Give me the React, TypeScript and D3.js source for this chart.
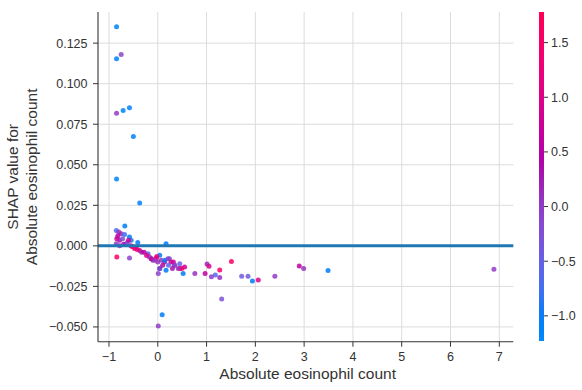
import React from "react";
import * as d3 from "d3";

// Feature value (x), SHAP value (y), interaction feature value (colour)
const featureX: number[] = [
  -0.845, -0.75, -0.845, -0.845, -0.71, -0.58, -0.5, -0.845, -0.37, -0.675,
  -0.85, -0.8, -0.75, -0.84, -0.78, -0.72, -0.58, -0.545, -0.41, -0.85,
  -0.65, -0.475, -0.42, -0.37, -0.84, -0.58, -0.82, -0.7, -0.62, -0.55,
  -0.45, -0.33, -0.78, -0.68, -0.6, -0.52,
  -0.2, -0.17, -0.135, -0.1, -0.03, 0.04, 0.17, 0.07, 0.0, 0.14,
  0.24, 0.27, 0.34, 0.04, 0.17, 0.45, 0.55, -0.13, -0.06, 0.145,
  0.21, 0.32, 0.35, 0.45, 0.49, 0.42, 0.04, 0.52, 0.01, 0.76,
  0.97, -0.02, -0.28, -0.23, 0.1, 0.22, 0.3,
  0.09, 0.01,
  1.01, 1.05, 1.1, 1.18, 1.27, 1.27, 1.31, 1.51, 1.72, 1.85,
  1.94, 2.06, 2.4, 2.9, 2.99, 3.49, 6.89,
];
const shapY: number[] = [
  0.1351, 0.118, 0.1153, 0.0818, 0.0834, 0.0852, 0.0674, 0.0413, 0.0265, 0.0122,
  0.0095, 0.0085, 0.0075, 0.0044, 0.0034, 0.0044, 0.0054, 0.0034, 0.002, 0.0013,
  0.0013, -0.0017, -0.0023, -0.0028, -0.0069, -0.0075, 0.006, 0.001, 0.002, 0.0,
  -0.001, -0.004, 0.0, 0.007, 0.0035, -0.0005,
  -0.0048, -0.0069, -0.0079, -0.0089, -0.0075, -0.0058, 0.0013, -0.0089, -0.0099, -0.0099,
  -0.0079, -0.0099, -0.012, -0.014, -0.015, -0.014, -0.013, -0.0079, -0.0089, -0.0089,
  -0.0079, -0.0099, -0.012, -0.011, -0.014, -0.014, -0.014, -0.0171, -0.0171, -0.0171,
  -0.0171, -0.0065, -0.004, -0.006, -0.012, -0.012, -0.014,
  -0.0425, -0.0494,
  -0.0112, -0.0126, -0.0191, -0.0179, -0.0195, -0.0149, -0.0327, -0.0097, -0.0187, -0.0187,
  -0.0216, -0.021, -0.0187, -0.0124, -0.014, -0.0152, -0.0144,
];
const colorValue: number[] = [
  -1.1, -0.1, -1.1, 0.0, -1.1, -1.1, -1.1, -1.1, -1.1, -1.0,
  -0.7, 0.1, 0.2, 0.9, 0.3, -0.2, -1.0, -0.9, -1.0, 0.0,
  -0.3, 1.5, 1.3, 1.0, 1.6, -0.1, 0.5, 0.4, -0.4, 0.6,
  1.2, 0.2, 0.1, -0.8, 0.8, 1.4,
  -0.5, 0.1, -0.9, 0.2, 0.9, -1.0, -1.0, 0.0, 0.1, 0.3,
  -0.4, 0.9, 0.0, -1.0, -1.0, 1.5, 0.8, 0.8, 0.0, -1.0,
  0.0, 0.8, -0.1, -0.5, 1.4, 0.1, 0.0, -1.0, -0.1, 0.1,
  0.6, 1.3, 0.5, 1.0, 0.4, -0.6, 0.3,
  -1.0, 0.0,
  0.2, 0.9, 0.0, -0.6, 0.1, 1.5, -0.3, 1.6, -0.4, -0.4,
  -1.0, 1.0, 0.0, 0.6, 0.1, -1.0, 0.0,
];

const xTicks: number[] = [-1, 0, 1, 2, 3, 4, 5, 6, 7];
const yTicks: number[] = [-0.05, -0.025, 0, 0.025, 0.05, 0.075, 0.1, 0.125];
const cTicks: number[] = [-1.0, -0.5, 0.0, 0.5, 1.0, 1.5];
const xDomain: [number, number] = [-1.225, 7.287];
const yDomain: [number, number] = [-0.0591, 0.1442];
const cDomain: [number, number] = [-1.23, 1.78];

const xLabel = "Absolute eosinophil count";
const yLabelLines = ["SHAP value for", "Absolute eosinophil count"];

// SHAP red_blue colormap (LCh interpolation)
function redBlue(t: number): string {
  const tt = Math.max(0, Math.min(1, t));
  const h0 = (4.6588 * 180) / Math.PI;
  const h1 = ((0.35470565 + 2 * Math.PI) * 180) / Math.PI;
  const h = h0 + (h1 - h0) * tt;
  const c = 70 + (90 - 70) * tt;
  const l = tt < 0.5 ? 54 + (40 - 54) * (tt / 0.5) : 40 + (54 - 40) * ((tt - 0.5) / 0.5);
  return d3.hcl(h, c, l).formatHex();
}

const fmtMinus = (s: string) => s.replace("-", "\u2212");

export default function App() {
  const W = 582, H = 390;
  const left = 98, right = 513.3, top = 12, bottom = 341.7;
  const x = d3.scaleLinear().domain(xDomain).range([left, right]);
  const y = d3.scaleLinear().domain(yDomain).range([bottom, top]);
  const cbX = 539, cbW = 5, cbTop = 12, cbBottom = 341;
  const cScale = d3.scaleLinear().domain(cDomain).range([cbBottom, cbTop]);
  const cNorm = d3.scaleLinear().domain(cDomain).range([0, 1]);

  const font = "'Liberation Sans', Arial, sans-serif";
  const textColor = "#333333";
  const gridColor = "#dcdcdc";
  const tickFont = 12.5;
  const labelFont = 15.5;

  const gradStops = d3.range(0, 1.0001, 0.05);

  return (
    <svg width={W} height={H} style={{ position: "absolute", left: 0, top: 0 }} fontFamily={font}>
      <rect x={0} y={0} width={W} height={H} fill="#ffffff" />
      <defs>
        <linearGradient id="cbgrad" x1="0" y1="1" x2="0" y2="0">
          {gradStops.map((t, i) => (
            <stop key={i} offset={t} stopColor={redBlue(t)} />
          ))}
        </linearGradient>
      </defs>
      {/* grid */}
      {xTicks.map((t) => (
        <line key={"gx" + t} x1={x(t)} x2={x(t)} y1={top} y2={bottom} stroke={gridColor} strokeWidth={1} />
      ))}
      {yTicks.map((t) => (
        <line key={"gy" + t} x1={left} x2={right} y1={y(t)} y2={y(t)} stroke={gridColor} strokeWidth={1} />
      ))}
      {/* points */}
      {featureX.map((v, i) => (
        <circle key={"p" + i} cx={x(v)} cy={y(shapY[i])} r={2.5} fill={redBlue(cNorm(colorValue[i]))} fillOpacity={0.85} />
      ))}
      {/* zero line */}
      <line x1={left} x2={right} y1={y(0)} y2={y(0)} stroke="#1f77b4" strokeWidth={3} />
      {/* spines */}
      <line x1={left} x2={left} y1={top} y2={bottom} stroke={textColor} strokeWidth={1.1} />
      <line x1={left} x2={right} y1={bottom} y2={bottom} stroke={textColor} strokeWidth={1.1} />
      {/* y ticks */}
      {yTicks.map((t) => (
        <g key={"yt" + t}>
          <line x1={left - 5} x2={left} y1={y(t)} y2={y(t)} stroke={textColor} strokeWidth={1} />
          <text x={left - 10.5} y={y(t)} dy="0.35em" textAnchor="end" fontSize={tickFont} fill={textColor}>
            {fmtMinus(d3.format(".3f")(t))}
          </text>
        </g>
      ))}
      {/* x ticks */}
      {xTicks.map((t) => (
        <g key={"xt" + t}>
          <line x1={x(t)} x2={x(t)} y1={bottom} y2={bottom + 5} stroke={textColor} strokeWidth={1} />
          <text x={x(t)} y={bottom + 15} dy="0.35em" textAnchor="middle" fontSize={tickFont} fill={textColor}>
            {fmtMinus(String(t))}
          </text>
        </g>
      ))}
      {/* axis labels */}
      <text x={(left + right) / 2 + 2} y={374} dy="0.35em" textAnchor="middle" fontSize={labelFont} fill={textColor}>
        {xLabel}
      </text>
      {yLabelLines.map((s, i) => (
        <text
          key={"yl" + i}
          transform={`translate(${13 + i * 18.5},${(top + bottom) / 2}) rotate(-90)`}
          dy="0.35em"
          textAnchor="middle"
          fontSize={labelFont}
          fill={textColor}
        >
          {s}
        </text>
      ))}
      {/* colorbar */}
      <rect x={cbX} y={cbTop} width={cbW} height={cbBottom - cbTop} fill="url(#cbgrad)" />
      {cTicks.map((t) => (
        <g key={"ct" + t}>
          <line x1={cbX + cbW} x2={cbX + cbW + 4} y1={cScale(t)} y2={cScale(t)} stroke={textColor} strokeWidth={1} />
          <text x={cbX + cbW + 7} y={cScale(t)} dy="0.35em" textAnchor="start" fontSize={tickFont} fill={textColor}>
            {fmtMinus(d3.format(".1f")(t))}
          </text>
        </g>
      ))}
    </svg>
  );
}
